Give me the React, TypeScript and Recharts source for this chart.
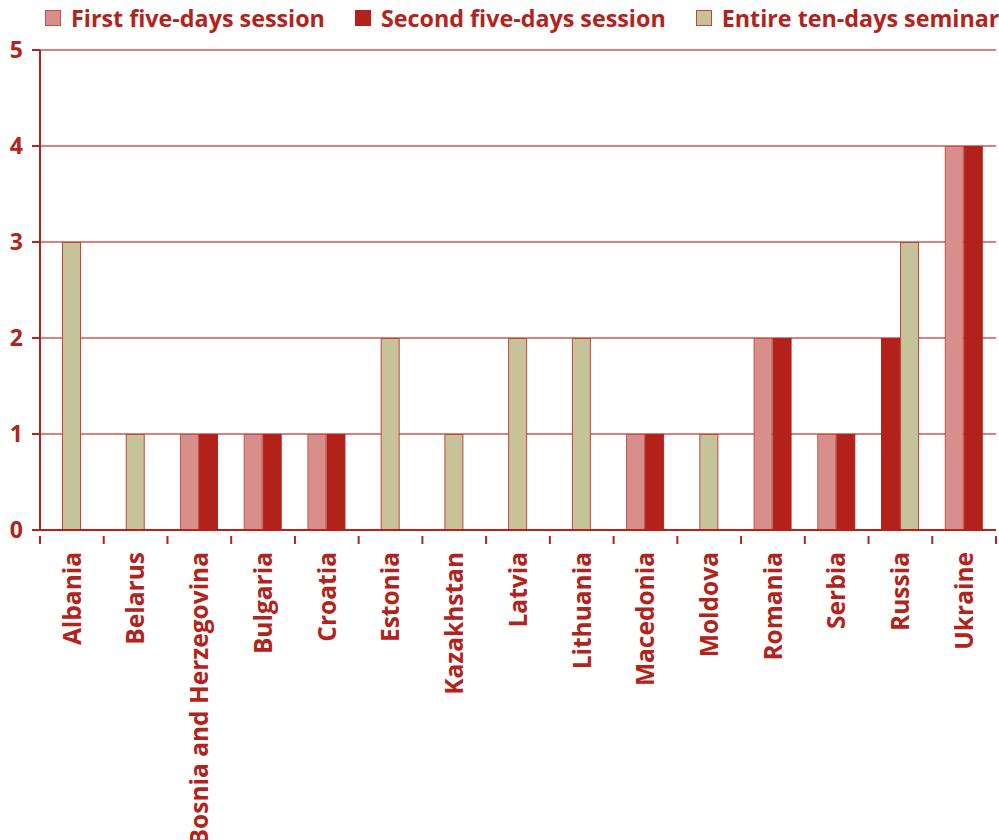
import React from "react";
import { BarChart, Bar, XAxis, YAxis, CartesianGrid } from "recharts";

const COUNTRIES = [
  "Albania",
  "Belarus",
  "Bosnia and Herzegovina",
  "Bulgaria",
  "Croatia",
  "Estonia",
  "Kazakhstan",
  "Latvia",
  "Lithuania",
  "Macedonia",
  "Moldova",
  "Romania",
  "Serbia",
  "Russia",
  "Ukraine",
];
const FIRST_SESSION = [0, 0, 1, 1, 1, 0, 0, 0, 0, 1, 0, 2, 1, 0, 4];
const SECOND_SESSION = [0, 0, 1, 1, 1, 0, 0, 0, 0, 1, 0, 2, 1, 2, 4];
const ENTIRE_SEMINAR = [3, 1, 0, 0, 0, 2, 1, 2, 2, 0, 1, 0, 0, 3, 0];
const Y_TICKS = [0, 1, 2, 3, 4, 5];

const SERIES = [
  { key: "first", name: "First five-days session", fill: "#d88f8b", stroke: "#c4524a" },
  { key: "second", name: "Second five-days session", fill: "#b2221a", stroke: "#b2221a" },
  { key: "entire", name: "Entire ten-days seminar", fill: "#c6c29a", stroke: "#c4453c" },
];
const KEYS = SERIES.map((s) => s.key);

const RED = "#b2231b";
const GRID = "#c95a52";
const FONT = "'Open Sans', 'Noto Sans', sans-serif";

const data = COUNTRIES.map((country, i) => ({
  country,
  first: FIRST_SESSION[i],
  second: SECOND_SESSION[i],
  entire: ENTIRE_SEMINAR[i],
}));

// bars with a zero value are left out and the rest are re-centred in the band
const makeShape = (key: string, fill: string, stroke: string) => (props: any) => {
  const { x, y, width, height, payload } = props;
  if (!payload || !(payload[key] > 0)) return null;
  const slot = KEYS.indexOf(key);
  const present = KEYS.filter((k) => payload[k] > 0);
  const center = x + width / 2 - (slot - 1) * width;
  const nx = center - (present.length * width) / 2 + present.indexOf(key) * width;
  return (
    <rect
      x={nx + 0.5}
      y={y + 0.5}
      width={width - 1}
      height={height - 1}
      fill={fill}
      stroke={stroke}
      strokeWidth={1}
    />
  );
};

const CountryTick = (props: any) => {
  const { x, y, payload, index } = props;
  const half = payload?.offset ?? 956 / COUNTRIES.length / 2;
  const axisY = y;
  return (
    <g>
      <line x1={x - half} x2={x - half} y1={axisY} y2={axisY + 8} stroke={RED} strokeWidth={2} />
      {index === COUNTRIES.length - 1 && (
        <line x1={x + half} x2={x + half} y1={axisY} y2={axisY + 8} stroke={RED} strokeWidth={2} />
      )}
      <text
        x={x}
        y={axisY + 16}
        transform={`rotate(-90, ${x}, ${axisY + 16})`}
        textAnchor="end"
        dy="0.36em"
        fill={RED}
        fontSize={24.5}
        fontWeight={700}
        fontFamily={FONT}
      >
        {payload.value}
      </text>
    </g>
  );
};

const LegendRow = () => (
  <div
    style={{
      position: "absolute",
      left: 45,
      top: 3,
      display: "flex",
      alignItems: "center",
      fontFamily: FONT,
      whiteSpace: "nowrap",
    }}
  >
    {SERIES.map((s, i) => (
      <div key={s.key} style={{ display: "flex", alignItems: "center", marginLeft: i === 0 ? 0 : 30 }}>
        <span
          style={{
            display: "inline-block",
            width: 14,
            height: 14,
            background: s.fill,
            border: `1px solid ${s.stroke}`,
            marginRight: 10,
          }}
        />
        <span style={{ color: RED, fontSize: 23.3, fontWeight: 700, lineHeight: "30px" }}>{s.name}</span>
      </div>
    ))}
  </div>
);

export default function App() {
  return (
    <div style={{ position: "absolute", left: 0, top: 0, width: 999, height: 840, background: "#fff", overflow: "hidden" }}>
      <BarChart
        width={999}
        height={840}
        data={data}
        margin={{ top: 50, right: 3, bottom: 0, left: 0 }}
        barSize={19}
        barGap={0}
      >
        <CartesianGrid vertical={false} stroke={GRID} strokeWidth={1.5} />
        <XAxis
          dataKey="country"
          height={310}
          interval={0}
          tickLine={false}
          axisLine={{ stroke: RED, strokeWidth: 2 }}
          tick={<CountryTick />}
          tickMargin={0}
        />
        <YAxis
          width={40}
          domain={[0, 5]}
          ticks={Y_TICKS}
          interval={0}
          tickSize={8}
          tickMargin={9}
          axisLine={{ stroke: RED, strokeWidth: 2 }}
          tickLine={{ stroke: RED, strokeWidth: 2 }}
          tick={{ fill: RED, fontSize: 23, fontWeight: 700, fontFamily: FONT }}
        />
        {SERIES.map((s) => (
          <Bar
            key={s.key}
            dataKey={s.key}
            name={s.name}
            fill={s.fill}
            isAnimationActive={false}
            shape={makeShape(s.key, s.fill, s.stroke)}
          />
        ))}
      </BarChart>
      <LegendRow />
    </div>
  );
}
